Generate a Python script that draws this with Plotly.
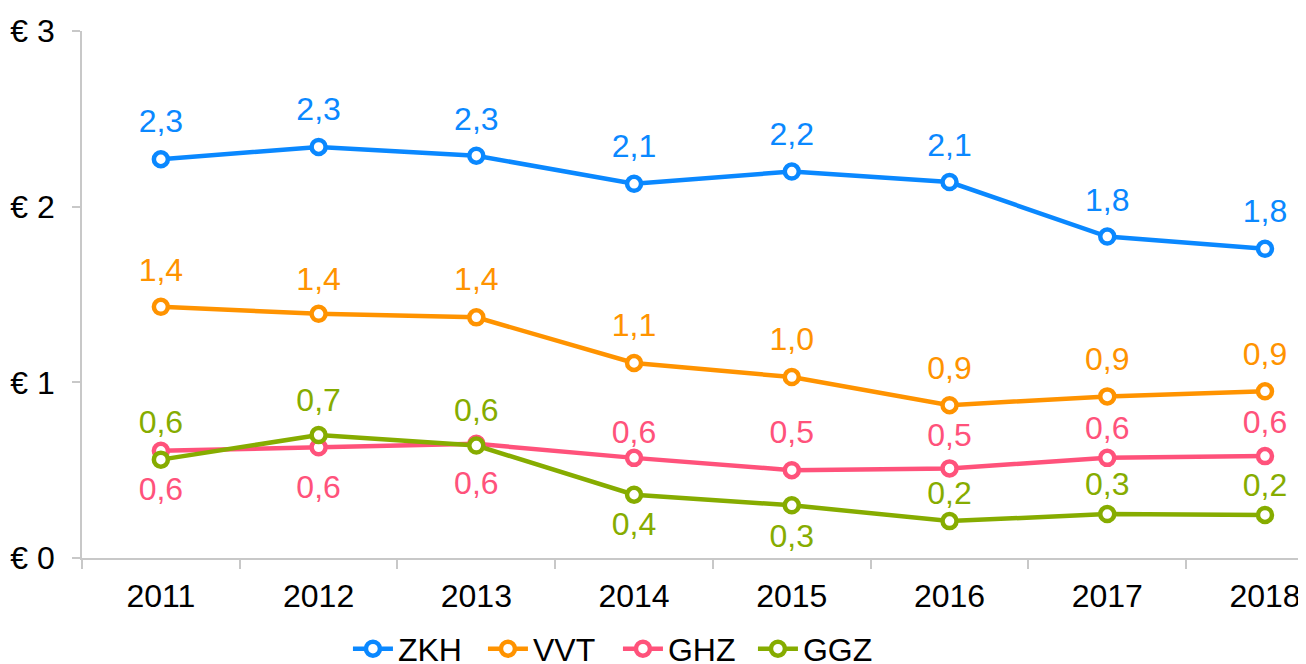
import plotly.graph_objects as go

years = ["2011", "2012", "2013", "2014", "2015", "2016", "2017", "2018"]
series_names = ["ZKH", "VVT", "GHZ", "GGZ"]
zkh = [2.27, 2.34, 2.29, 2.13, 2.20, 2.14, 1.83, 1.76]
vvt = [1.43, 1.39, 1.37, 1.11, 1.03, 0.87, 0.92, 0.949]
ghz = [0.61, 0.63, 0.65, 0.57, 0.50, 0.51, 0.57, 0.58]
ggz = [0.56, 0.70, 0.64, 0.36, 0.30, 0.21, 0.25, 0.245]
zkh_labels = ["2,3", "2,3", "2,3", "2,1", "2,2", "2,1", "1,8", "1,8"]
vvt_labels = ["1,4", "1,4", "1,4", "1,1", "1,0", "0,9", "0,9", "0,9"]
ghz_labels = ["0,6", "0,6", "0,6", "0,6", "0,5", "0,5", "0,6", "0,6"]
ggz_labels = ["0,6", "0,7", "0,6", "0,4", "0,3", "0,2", "0,3", "0,2"]
y_ticks = [0, 1, 2, 3]
y_tick_text = ["€ 0", "€ 1", "€ 2", "€ 3"]

# label placement (style): side and gap in px between point and label centre
ghz_pos = ["bottom center"] * 3 + ["top center"] * 5
ggz_pos = ["top center"] * 3 + ["bottom center"] * 2 + ["top center"] * 3
zkh_gap = [37, 36.5, 36, 36.5, 37, 36, 36, 37]
vvt_gap = [36, 34, 37, 37, 37.5, 35.7, 36, 36]
ghz_gap = [39.3, 40.4, 40.3, 25, 37, 32.5, 29, 33]
ggz_gap = [36.6, 34, 34.7, 30, 32, 27, 28.7, 29.3]

colors = ["#0A88FF", "#FF9300", "#FF527B", "#86AC00"]
values = [zkh, vvt, ghz, ggz]
labels = [zkh_labels, vvt_labels, ghz_labels, ggz_labels]
positions = [["top center"] * 8, ["top center"] * 8, ghz_pos, ggz_pos]
gaps = [zkh_gap, vvt_gap, ghz_gap, ggz_gap]

FONT = "Liberation Sans, Arial, sans-serif"
FS = 32
fig = go.Figure()
for name, vals, col in zip(series_names, values, colors):
    fig.add_trace(go.Scatter(
        x=years, y=vals, name=name, mode="lines+markers",
        line=dict(color=col, width=4.5),
        marker=dict(symbol="circle", size=14, color="white",
                    line=dict(color=col, width=4.5)),
        hoverinfo="skip",
    ))
for vals, lab, pos, gap, col in zip(values, labels, positions, gaps, colors):
    sizes = [max(1.6 * (g - (15 if p.startswith("bottom") else 19)), 0.5)
             for p, g in zip(pos, gap)]
    fig.add_trace(go.Scatter(
        x=years, y=vals, mode="markers+text", text=lab, textposition=pos,
        marker=dict(size=sizes, opacity=0),
        textfont=dict(color=col, size=FS, family=FONT),
        showlegend=False, hoverinfo="skip",
    ))

# page body adds an 8px offset, so the figure is 8px smaller and margins shifted
fig.update_layout(
    width=1298, height=656,
    margin=dict(l=74, r=0, t=23, b=106, autoexpand=False),
    paper_bgcolor="white", plot_bgcolor="white",
    font=dict(family=FONT, size=FS, color="black"),
    showlegend=True,
    legend=dict(orientation="h", xref="container", yref="container",
                x=0.2619, xanchor="left", y=0.023, yanchor="middle",
                font=dict(size=FS, color="black"), itemwidth=40,
                entrywidth=80, bgcolor="rgba(0,0,0,0)"),
)
fig.update_xaxes(
    type="category", range=[-0.5, 7.26], automargin=False,
    showline=True, linecolor="#C8C8C8", linewidth=1.5,
    ticks="outside", tickson="boundaries", ticklen=9, tickcolor="#C8C8C8",
    tickwidth=1.5, showgrid=False, zeroline=False,
    tickfont=dict(size=FS, color="black"), ticklabelstandoff=9,
)
fig.update_yaxes(
    range=[0, 3], tickvals=y_ticks, ticktext=y_tick_text, automargin=False,
    showline=True, linecolor="#C8C8C8", linewidth=1.5,
    ticks="outside", ticklen=8, tickcolor="#C8C8C8", tickwidth=1.5,
    showgrid=False, zeroline=False,
    tickfont=dict(size=FS, color="black"), ticklabelstandoff=11,
)
fig.write_html("out.html")
